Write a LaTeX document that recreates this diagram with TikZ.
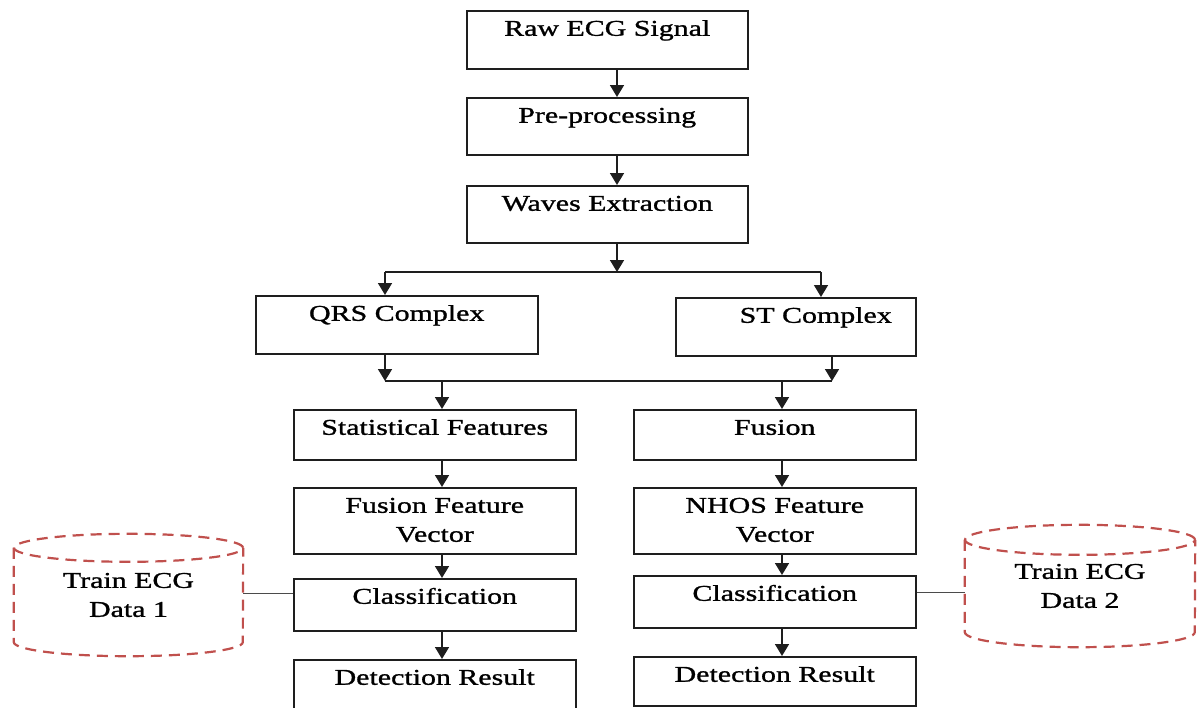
\documentclass[tikz,border=0pt]{standalone}
\usepackage{fontspec}
\setmainfont[FakeStretch=1.33,FakeBold=1.2]{Liberation Serif}
\usetikzlibrary{arrows.meta,calc}
\definecolor{dbred}{RGB}{192,80,77}
\definecolor{ink}{RGB}{30,30,30}
\tikzset{
  stepbox/.style={draw=ink, line width=1.5pt, inner sep=0pt, anchor=north west},
  flow/.style={draw=ink, line width=1.6pt, -{Triangle[width=14pt,length=12pt]}},
  link/.style={draw=ink, line width=1.5pt},
  thinlink/.style={draw=ink!80, line width=1pt},
  dbbox/.style={inner sep=0pt, align=center},
  dbline/.style={draw=dbred, line width=2.2pt, dash pattern=on 11pt off 7pt},
}
\newcommand{\bx}[3]{\parbox[c][#2pt][t]{#1pt}{\centering\baselineskip=29pt\rule{0pt}{25pt}#3}}
\begin{document}
\begin{tikzpicture}[x=1pt,y=1pt,font=\fontsize{22.5pt}{29pt}\selectfont]
\useasboundingbox (0,0) rectangle (1197,-707);
% boxes
\node[stepbox] (raw) at (466,-10)  {\bx{281}{58}{Raw ECG Signal}};
\node[stepbox] (pre) at (466,-97)  {\bx{281}{57}{Pre-processing}};
\node[stepbox] (wav) at (466,-185) {\bx{281}{57}{Waves Extraction}};
\node[stepbox] (qrs) at (255,-295) {\bx{282}{58}{QRS Complex}};
\node[stepbox] (st)  at (675,-297) {\bx{240}{58}{\hspace*{40pt}ST Complex}};
\node[stepbox] (sf)  at (293,-409) {\bx{282}{50}{Statistical Features}};
\node[stepbox] (ffv) at (293,-487) {\bx{282}{66}{Fusion Feature\\Vector}};
\node[stepbox] (cl1) at (293,-578) {\bx{282}{52}{Classification}};
\node[stepbox] (dr1) at (293,-659) {\bx{282}{62}{Detection Result}};
\node[stepbox] (fu)  at (633,-409) {\bx{282}{50}{Fusion}};
\node[stepbox] (nh)  at (633,-487) {\bx{282}{66}{NHOS Feature\\Vector}};
\node[stepbox] (cl2) at (633,-575) {\bx{282}{52}{Classification}};
\node[stepbox] (dr2) at (633,-656) {\bx{282}{49}{Detection Result}};
% databases
\node[dbbox, minimum width=229pt, minimum height=122pt] (db1) at (128.5,-595) {Train ECG\\Data 1};
\node[dbbox, minimum width=230pt, minimum height=122pt] (db2) at (1080,-586) {Train ECG\\Data 2};
\draw[dbline] ($(db1.north)+(0,-14)$) ellipse [x radius=114.5, y radius=14];
\draw[dbline] ($(db1.north west)+(0,-14)$) -- ($(db1.south west)+(0,14)$)
  arc[start angle=180, end angle=360, x radius=114.5, y radius=14] -- ($(db1.north east)+(0,-14)$);
\draw[dbline] ($(db2.north)+(0,-15)$) ellipse [x radius=115, y radius=15];
\draw[dbline] ($(db2.north west)+(0,-15)$) -- ($(db2.south west)+(0,15)$)
  arc[start angle=180, end angle=360, x radius=115, y radius=15] -- ($(db2.north east)+(0,-15)$);
% guide coordinates
\coordinate (xm) at (617,0);
\coordinate (xq) at (385,0);
\coordinate (xs) at (821,0);
\coordinate (xs2) at (832,0);
\coordinate (xl) at (442,0);
\coordinate (xr) at (782,0);
\coordinate (ya) at (0,-272);
\coordinate (yb) at (0,-381);
% connectors
\draw[flow] (raw.south -| xm) -- (pre.north -| xm);
\draw[flow] (pre.south -| xm) -- (wav.north -| xm);
\draw[flow] (wav.south -| xm) -- (xm |- ya);
\draw[link] (xq |- ya) -- (xs |- ya);
\draw[flow] (xq |- ya) -- (qrs.north -| xq);
\draw[flow] (xs |- ya) -- (st.north -| xs);
\draw[flow] (qrs.south -| xq) -- (xq |- yb);
\draw[flow] (st.south -| xs2) -- (xs2 |- yb);
\draw[link] (xq |- yb) -- (xs2 |- yb);
\draw[flow] (xl |- yb) -- (sf.north -| xl);
\draw[flow] (xr |- yb) -- (fu.north -| xr);
\draw[flow] (sf.south -| xl) -- (ffv.north -| xl);
\draw[flow] (ffv.south -| xl) -- (cl1.north -| xl);
\draw[flow] (cl1.south -| xl) -- (dr1.north -| xl);
\draw[flow] (fu.south -| xr) -- (nh.north -| xr);
\draw[flow] (nh.south -| xr) -- (cl2.north -| xr);
\draw[flow] (cl2.south -| xr) -- (dr2.north -| xr);
\coordinate (c1) at ($(cl1.north west)!0.29!(cl1.south west)$);
\coordinate (c2) at ($(cl2.north east)!0.33!(cl2.south east)$);
\draw[thinlink] (c1 -| db1.east) -- (c1);
\draw[thinlink] (c2) -- (c2 -| db2.west);
\end{tikzpicture}
\end{document}
